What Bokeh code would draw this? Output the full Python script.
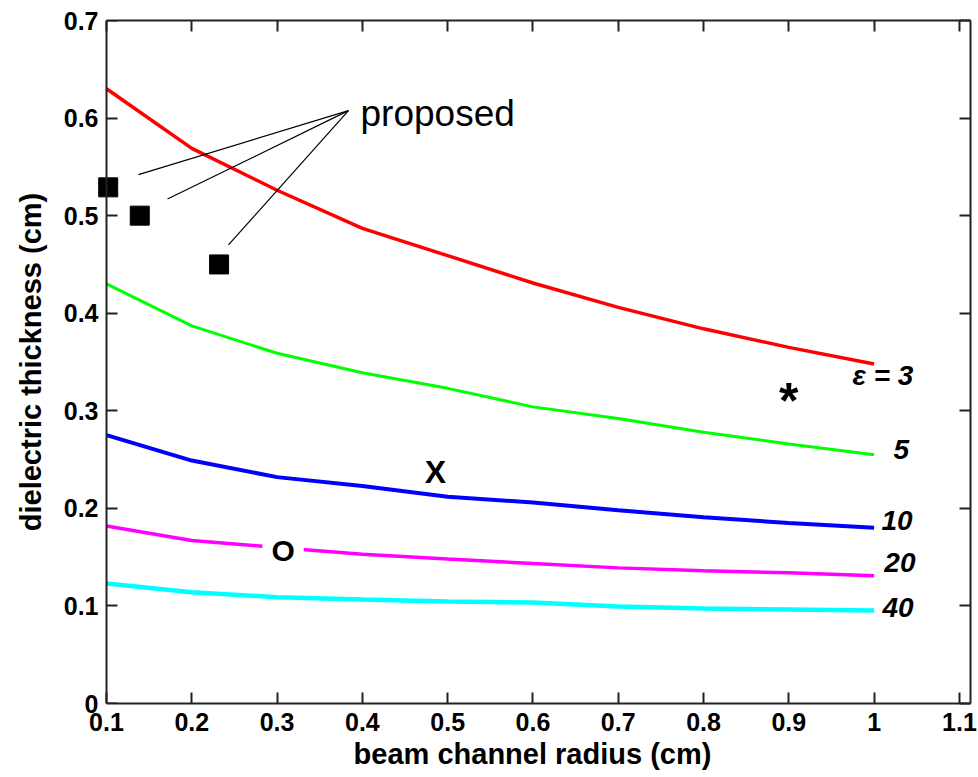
from bokeh.plotting import figure
from bokeh.models import Range1d, LinearAxis, FixedTicker
from bokeh.core.properties import value
from bokeh.embed import file_html
from bokeh.resources import INLINE

# ---- data ----
radius = [0.1, 0.2, 0.3, 0.4, 0.5, 0.6, 0.7, 0.8, 0.9, 1.0]
eps3 = [0.630, 0.569, 0.526, 0.487, 0.459, 0.431, 0.406, 0.384, 0.365, 0.348]
eps5 = [0.430, 0.387, 0.359, 0.339, 0.323, 0.304, 0.292, 0.278, 0.266, 0.255]
eps10 = [0.275, 0.249, 0.232, 0.223, 0.212, 0.206, 0.198, 0.191, 0.185, 0.180]
eps20 = [0.182, 0.167, 0.160, 0.153, 0.148, 0.1435, 0.139, 0.136, 0.134, 0.131]
eps40 = [0.123, 0.114, 0.109, 0.1065, 0.1045, 0.1035, 0.0994, 0.0973, 0.0963, 0.0953]

proposed_x = [0.102, 0.139, 0.232]
proposed_y = [0.529, 0.500, 0.450]

# annotation leader lines: hub near text, ends near squares
hub_x, hub_y = 0.3837, 0.6076
lead_end_x = [0.1375, 0.1715, 0.243]
lead_end_y = [0.542, 0.517, 0.470]

curve_labels = ["ε = 3", "5", "10", "20", "40"]
curve_label_x = [0.9746, 1.0226, 1.0086, 1.012, 1.0097]
curve_label_y = [0.336, 0.260, 0.188, 0.144, 0.098]

x_ticks = [0.1, 0.2, 0.3, 0.4, 0.5, 0.6, 0.7, 0.8, 0.9, 1.0, 1.1]
x_tick_labels = ["0.1", "0.2", "0.3", "0.4", "0.5", "0.6", "0.7", "0.8", "0.9", "1", "1.1"]
y_ticks = [0.0, 0.1, 0.2, 0.3, 0.4, 0.5, 0.6, 0.7]
y_tick_labels = ["0", "0.1", "0.2", "0.3", "0.4", "0.5", "0.6", "0.7"]

X_MIN, X_MAX = 0.1, 1.113
FONT = "Liberation Sans"
AX = "#222222"

# frame extends a little left of x=0.1 so the first square is not clipped;
# the y axis line and ticks are pinned at x=0.1
p = figure(width=978, height=777, output_backend="svg", toolbar_location=None,
           x_range=Range1d(X_MIN - 12 / 852.9, X_MAX), y_range=Range1d(0, 0.7),
           min_border_left=94, min_border_right=8, min_border_top=20, min_border_bottom=74)
p.background_fill_color = "white"
p.border_fill_color = "white"
p.grid.visible = False
p.outline_line_color = None

# labelled axes
for ax in [p.xaxis[0], p.yaxis[0]]:
    ax.major_label_text_font = FONT
    ax.major_label_text_font_style = "bold"
    ax.major_label_text_font_size = "25px"
    ax.major_label_text_color = "black"
    ax.axis_label_text_font = FONT
    ax.axis_label_text_font_style = "bold"
    ax.axis_label_text_font_size = "29px"
    ax.axis_label_text_color = "black"
    ax.major_tick_in = 11
    ax.major_tick_out = 0
    ax.minor_tick_line_color = None
    ax.axis_line_width = 2
    ax.axis_line_color = AX
    ax.major_tick_line_width = 2
    ax.major_tick_line_color = AX

p.xaxis[0].ticker = FixedTicker(ticks=x_ticks)
p.xaxis[0].major_label_overrides = dict(zip(x_ticks, x_tick_labels))
p.xaxis[0].axis_label = "beam channel radius (cm)"
p.xaxis[0].major_label_standoff = 9
p.xaxis[0].axis_label_standoff = 4
p.xaxis[0].bounds = (X_MIN, X_MAX)

# left axis: labels only (line and ticks come from the pinned axis below)
p.yaxis[0].ticker = FixedTicker(ticks=y_ticks)
p.yaxis[0].major_label_overrides = dict(zip(y_ticks, y_tick_labels))
p.yaxis[0].axis_label = "dielectric thickness (cm)"
p.yaxis[0].major_label_standoff = -4
p.yaxis[0].axis_label_standoff = 14
p.yaxis[0].axis_line_color = None
p.yaxis[0].major_tick_line_color = None

top = LinearAxis(ticker=FixedTicker(ticks=x_ticks), bounds=(X_MIN, X_MAX))
right = LinearAxis(ticker=FixedTicker(ticks=y_ticks))
pin = LinearAxis(ticker=FixedTicker(ticks=y_ticks), fixed_location=X_MIN)
for ax in [top, right, pin]:
    ax.major_label_text_font_size = "1px"
    ax.major_label_text_color = None
    ax.major_label_standoff = 0
    ax.major_tick_in = 11
    ax.major_tick_out = 0
    ax.minor_tick_line_color = None
    ax.axis_line_width = 2
    ax.axis_line_color = AX
    ax.major_tick_line_width = 2
    ax.major_tick_line_color = AX
p.add_layout(top, "above")
p.add_layout(right, "right")
p.add_layout(pin, "left")

# curves
p.line(radius, eps3, line_color="#FF0000", line_width=3.5)
p.line(radius, eps5, line_color="#00FF00", line_width=3)
p.line(radius, eps10, line_color="#0000FF", line_width=4)
p.line(radius, eps20, line_color="#FF00FF", line_width=3.5)
p.line(radius, eps40, line_color="#00FFFF", line_width=4.5)

# curve labels
p.text(x=curve_label_x, y=curve_label_y, text=curve_labels,
       text_font=value(FONT), text_font_style="bold italic", text_font_size="28px",
       text_align="left", text_baseline="alphabetic", text_color="black")

# proposed squares + leaders
p.segment(x0=[hub_x] * 3, y0=[hub_y] * 3, x1=lead_end_x, y1=lead_end_y,
          line_color="black", line_width=1.2)
p.scatter(proposed_x, proposed_y, marker="square", size=19,
          fill_color="black", line_color="black")
p.text(x=[0.3978], y=[0.605], text=["proposed"], text_font=value(FONT),
       text_font_size="37px", text_align="left", text_baseline="alphabetic",
       text_color="black")

# other design markers
p.text(x=[0.4857], y=[0.237], text=["X"], text_font=value(FONT), text_font_style="bold",
       text_font_size="32px", text_align="center", text_baseline="alphabetic", text_color="black")
p.text(x=[0.307], y=[0.157], text=["O"], text_font=value(FONT), text_font_style="bold",
       text_font_size="30px", text_align="center", text_baseline="alphabetic", text_color="black",
       background_fill_color="white", padding=9)
p.text(x=[0.9], y=[0.310], text=["*"], text_font=value(FONT), text_font_style="bold",
       text_font_size="50px", text_align="center", text_baseline="alphabetic", text_color="black")

open("out.html", "w").write(file_html(p, INLINE))
